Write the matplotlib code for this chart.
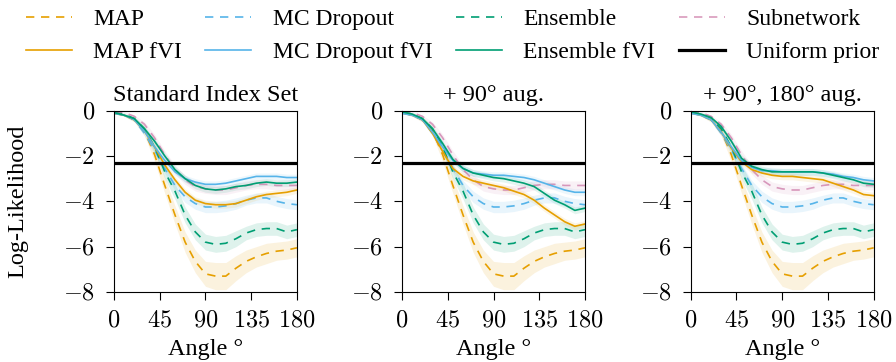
import numpy as np
import matplotlib
matplotlib.use("Agg")
import matplotlib.pyplot as plt

plt.rcParams['font.family'] = ['Liberation Serif', 'DejaVu Serif']
plt.rcParams['mathtext.fontset'] = 'cm'

# rotation angles (degrees)
angles = np.arange(0, 181, 10)

# baselines (same in every panel)
map_ll = [-0.07, -0.2, -0.4, -0.9, -1.95, -3.3, -4.6, -5.8, -6.65, -7.2, -7.3, -7.3,
          -6.95, -6.65, -6.45, -6.3, -6.2, -6.15, -6.05]
map_sd = [0.03, 0.05, 0.1, 0.2, 0.3, 0.35, 0.4, 0.45, 0.5, 0.55, 0.6, 0.6,
          0.55, 0.5, 0.45, 0.45, 0.4, 0.4, 0.4]
mcd_ll = [-0.1, -0.2, -0.4, -1.0, -1.75, -2.55, -3.3, -3.8, -4.1, -4.25, -4.25, -4.2,
          -4.1, -3.95, -3.85, -3.85, -4.0, -4.1, -4.15]
mcd_sd = [0.02, 0.04, 0.08, 0.12, 0.18, 0.2, 0.22, 0.25, 0.25, 0.25, 0.25, 0.25,
          0.25, 0.22, 0.22, 0.22, 0.22, 0.22, 0.22]
ens_ll = [-0.07, -0.15, -0.35, -0.8, -1.6, -2.7, -3.55, -4.6, -5.35, -5.8, -5.9, -5.85,
          -5.65, -5.4, -5.25, -5.2, -5.2, -5.35, -5.25]
ens_sd = [0.02, 0.04, 0.08, 0.15, 0.25, 0.3, 0.35, 0.35, 0.35, 0.35, 0.35, 0.35,
          0.35, 0.3, 0.3, 0.3, 0.3, 0.3, 0.3]
sub_ll = [-0.05, -0.08, -0.25, -0.6, -1.2, -1.95, -2.6, -3.05, -3.35, -3.45, -3.5, -3.5,
          -3.4, -3.3, -3.25, -3.25, -3.3, -3.3, -3.3]
sub_sd = [0.02, 0.03, 0.05, 0.1, 0.15, 0.18, 0.2, 0.2, 0.2, 0.2, 0.2, 0.2,
          0.2, 0.2, 0.2, 0.2, 0.2, 0.2, 0.2]
fvi_sd = [0.02, 0.03, 0.05, 0.08, 0.12, 0.15, 0.15, 0.15, 0.15, 0.15, 0.15, 0.15,
          0.15, 0.15, 0.15, 0.15, 0.15, 0.15, 0.15]

titles = ['Standard Index Set', '+ 90° aug.', '+ 90°, 180° aug.']

# fVI variants, one list per panel
map_fvi = [
    [-0.12, -0.2, -0.4, -0.9, -1.6, -2.4, -3.05, -3.6, -3.95, -4.1, -4.15, -4.15,
     -4.1, -3.95, -3.8, -3.7, -3.65, -3.6, -3.5],
    [-0.1, -0.2, -0.4, -1.0, -1.8, -2.55, -2.9, -3.1, -3.2, -3.3, -3.4, -3.55,
     -3.7, -3.95, -4.3, -4.6, -4.9, -5.1, -5.0],
    [-0.1, -0.2, -0.4, -0.95, -1.65, -2.25, -2.6, -2.75, -2.85, -2.9, -2.9, -2.95,
     -3.0, -3.05, -3.2, -3.35, -3.5, -3.7, -3.75],
]
mcd_fvi = [
    [-0.12, -0.2, -0.4, -0.9, -1.6, -2.2, -2.7, -3.0, -3.15, -3.25, -3.25, -3.2,
     -3.1, -3.0, -2.9, -2.9, -2.9, -2.95, -2.95],
    [-0.12, -0.2, -0.4, -0.95, -1.6, -2.2, -2.55, -2.75, -2.8, -2.85, -2.85, -2.9,
     -2.95, -3.05, -3.2, -3.35, -3.5, -3.6, -3.6],
    [-0.12, -0.2, -0.4, -0.95, -1.6, -2.2, -2.5, -2.65, -2.65, -2.7, -2.7, -2.7,
     -2.7, -2.75, -2.8, -2.9, -2.95, -3.05, -3.1],
]
ens_fvi = [
    [-0.08, -0.2, -0.35, -0.8, -1.35, -2.0, -2.6, -3.0, -3.3, -3.45, -3.5, -3.45,
     -3.35, -3.3, -3.2, -3.15, -3.2, -3.2, -3.15],
    [-0.05, -0.15, -0.35, -0.8, -1.45, -2.15, -2.55, -2.75, -2.85, -2.95, -3.0, -3.1,
     -3.2, -3.35, -3.65, -3.95, -4.15, -4.4, -4.3],
    [-0.05, -0.15, -0.3, -0.7, -1.35, -2.1, -2.45, -2.6, -2.7, -2.7, -2.7, -2.7,
     -2.7, -2.75, -2.85, -2.95, -3.05, -3.2, -3.25],
]
uniform_prior = np.log(0.1)

c_map = '#E69F00'
c_mcd = '#56B4E9'
c_ens = '#009E73'
c_sub = '#CC79A7'

fig = plt.figure(figsize=(8.96, 3.62), dpi=100)
lefts = [0.1272, 0.4487, 0.7709]
dash = (5, 4)


def band(ax, y, sd, col, alpha=0.13):
    y = np.array(y)
    sd = np.array(sd)
    ax.fill_between(angles, y - sd, y + sd, color=col, alpha=alpha, lw=0)


handles = None
for i in range(3):
    ax = fig.add_axes([lefts[i], 0.1934, 0.2042, 0.5009])
    band(ax, map_ll, map_sd, c_map)
    band(ax, mcd_ll, mcd_sd, c_mcd)
    band(ax, ens_ll, ens_sd, c_ens)
    band(ax, sub_ll, sub_sd, c_sub, 0.1)
    band(ax, map_fvi[i], fvi_sd, c_map, 0.1)
    band(ax, mcd_fvi[i], fvi_sd, c_mcd, 0.1)
    band(ax, ens_fvi[i], fvi_sd, c_ens, 0.1)

    h1, = ax.plot(angles, map_ll, color=c_map, lw=1.2, dashes=dash, label='MAP')
    h3, = ax.plot(angles, mcd_ll, color=c_mcd, lw=1.2, dashes=dash, label='MC Dropout')
    h5, = ax.plot(angles, ens_ll, color=c_ens, lw=1.2, dashes=dash, label='Ensemble')
    h7, = ax.plot(angles, sub_ll, color=c_sub, lw=1.2, dashes=dash, alpha=0.75, label='Subnetwork')
    h2, = ax.plot(angles, map_fvi[i], color=c_map, lw=1.2, label='MAP fVI')
    h4, = ax.plot(angles, mcd_fvi[i], color=c_mcd, lw=1.2, label='MC Dropout fVI')
    h6, = ax.plot(angles, ens_fvi[i], color=c_ens, lw=1.2, label='Ensemble fVI')
    h8 = ax.axhline(uniform_prior, color='black', lw=2.3, label='Uniform prior')
    handles = [h1, h2, h3, h4, h5, h6, h7, h8]

    ax.set_xlim(0, 180)
    ax.set_ylim(-8, 0)
    ax.set_xticks([0, 45, 90, 135, 180])
    ax.set_xticklabels(['$%d$' % v for v in [0, 45, 90, 135, 180]])
    ax.set_yticks([0, -2, -4, -6, -8])
    ax.set_yticklabels(['$%d$' % v for v in [0, -2, -4, -6, -8]])
    ax.tick_params(direction='out', length=5.5, width=0.8, labelsize=17.5, pad=8)
    ax.set_title(titles[i], fontsize=17.5, pad=7)
    ax.set_xlabel('Angle °', fontsize=17.5, labelpad=5)
    if i == 0:
        ax.set_ylabel('Log-Likelihood', fontsize=17.5)
        ax.yaxis.set_label_coords(-0.47, 0.5)

fig.legend(handles=handles, ncol=4, loc='upper center', bbox_to_anchor=(0.505, 1.035),
           frameon=False, fontsize=17, handlelength=1.95, columnspacing=1.0,
           labelspacing=0.5, handletextpad=0.9)

fig.savefig('out.png', dpi=100)
